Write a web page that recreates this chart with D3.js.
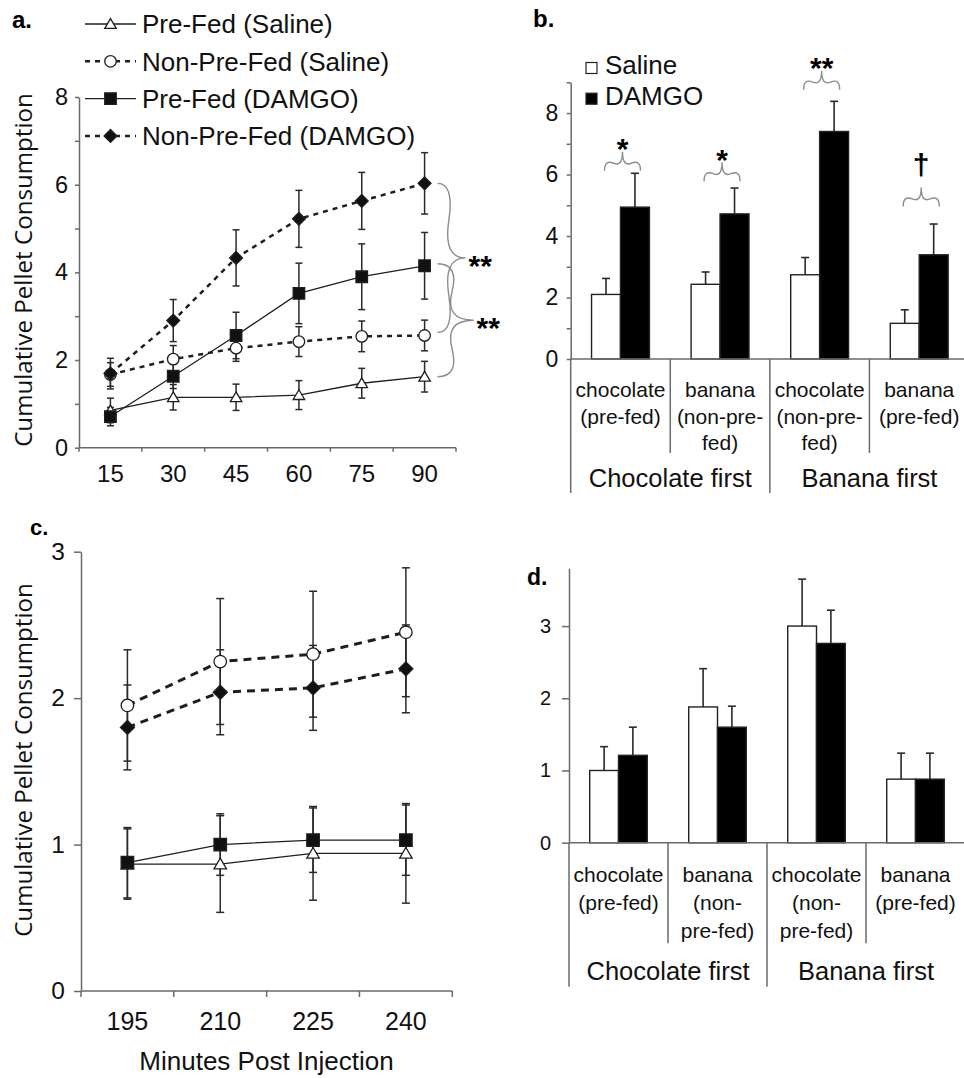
<!DOCTYPE html>
<html><head><meta charset="utf-8">
<script src="https://cdn.jsdelivr.net/npm/d3@7"></script>
<style>body{margin:0;background:#fff}svg{display:block}</style>
</head><body>
<svg id="chart" width="964" height="1078"></svg>
<script>
// ---------------- DATA ----------------
// Panel a
const timesA = ["15","30","45","60","75","90"];
const preFedSalineA      = [0.85, 1.15, 1.15, 1.20, 1.47, 1.62];
const preFedSalineErrA   = [0.28, 0.29, 0.30, 0.33, 0.34, 0.35];
const nonPreFedSalineA   = [1.67, 2.02, 2.27, 2.42, 2.54, 2.56];
const nonPreFedSalineErrA= [0.27, 0.31, 0.30, 0.34, 0.35, 0.35];
const preFedDamgoA       = [0.71, 1.63, 2.56, 3.52, 3.90, 4.15];
const preFedDamgoErrA    = [0.21, 0.28, 0.53, 0.69, 0.75, 0.76];
const nonPreFedDamgoA    = [1.69, 2.90, 4.33, 5.22, 5.63, 6.03];
const nonPreFedDamgoErrA = [0.35, 0.48, 0.64, 0.65, 0.65, 0.70];
const seriesNames = ["Pre-Fed (Saline)","Non-Pre-Fed (Saline)","Pre-Fed (DAMGO)","Non-Pre-Fed (DAMGO)"];
const yTicksA = [0,1,2,3,4,5,6,7,8];

// Panel b
const categoriesB = [["chocolate","(pre-fed)"],["banana","(non-pre-","fed)"],["chocolate","(non-pre-","fed)"],["banana","(pre-fed)"]];
const groupsB = ["Chocolate first","Banana first"];
const treatments = ["Saline","DAMGO"];
const salineB    = [2.10, 2.43, 2.74, 1.16];
const salineErrB = [0.52, 0.40, 0.56, 0.44];
const damgoB     = [4.94, 4.72, 7.40, 3.39];
const damgoErrB  = [1.10, 0.84, 0.98, 1.00];
const sigB       = ["*","*","**","\u2020"];
const sigLevelB  = [6.12, 5.78, 8.76, 4.96];
const yTicksB = [0,1,2,3,4,5,6,7,8,9];

// Panel c
const timesC = ["195","210","225","240"];
const preFedSalineC      = [0.867, 0.867, 0.94, 0.94];
const preFedSalineErrC   = [0.24, 0.33, 0.32, 0.34];
const nonPreFedSalineC   = [1.95, 2.25, 2.30, 2.45];
const nonPreFedSalineErrC= [0.38, 0.43, 0.43, 0.44];
const preFedDamgoC       = [0.876, 1.00, 1.03, 1.03];
const preFedDamgoErrC    = [0.24, 0.21, 0.22, 0.24];
const nonPreFedDamgoC    = [1.80, 2.04, 2.07, 2.20];
const nonPreFedDamgoErrC = [0.29, 0.29, 0.29, 0.30];
const yTicksC = [0,1,2,3];

// Panel d
const categoriesD = [["chocolate","(pre-fed)"],["banana","(non-","pre-fed)"],["chocolate","(non-","pre-fed)"],["banana","(pre-fed)"]];
const salineD    = [1.00, 1.88, 3.00, 0.88];
const salineErrD = [0.33, 0.53, 0.65, 0.36];
const damgoD     = [1.21, 1.60, 2.76, 0.88];
const damgoErrD  = [0.39, 0.29, 0.46, 0.36];
const yTicksD = [0,1,2,3];

// ---------------- STYLE ----------------
const svg = d3.select("#chart");
const FONT = "'Liberation Sans', Arial, Helvetica, sans-serif";
const AX = "#6a6a6a";
const INK = "#1e1e1e";
const BRACE = "#8c8c8c";

function markerPath(type, s){
  const h = s/2;
  if(type==="square") return `M${-h},${-h}H${h}V${h}H${-h}Z`;
  if(type==="circle") return `M${-h},0A${h},${h} 0 1,0 ${h},0A${h},${h} 0 1,0 ${-h},0Z`;
  if(type==="triangle"){ const th = s*0.85; return `M0,${-th*0.55}L${h},${th*0.45}L${-h},${th*0.45}Z`; }
  if(type==="diamond"){ const d = h*1.12; return `M0,${-d}L${d},0L0,${d}L${-d},0Z`; }
}

function curlyBrace(x1,y1,x2,y2,w,q){
  let dx=x1-x2, dy=y1-y2; const len=Math.sqrt(dx*dx+dy*dy); dx/=len; dy/=len;
  const qx1=x1+q*w*dy, qy1=y1-q*w*dx;
  const qx2=(x1-.25*len*dx)+(1-q)*w*dy, qy2=(y1-.25*len*dy)-(1-q)*w*dx;
  const tx1=(x1-.5*len*dx)+w*dy, ty1=(y1-.5*len*dy)-w*dx;
  const qx3=x2+q*w*dy, qy3=y2-q*w*dx;
  const qx4=(x1-.75*len*dx)+(1-q)*w*dy, qy4=(y1-.75*len*dy)-(1-q)*w*dx;
  return `M${x1},${y1}Q${qx1},${qy1} ${qx2},${qy2}T${tx1},${ty1}M${x2},${y2}Q${qx3},${qy3} ${qx4},${qy4}T${tx1},${ty1}`;
}

function styleAxis(g, fs){
  g.select(".domain").attr("stroke",AX).attr("stroke-width",1.5);
  g.selectAll(".tick line").attr("stroke",AX).attr("stroke-width",1.5);
  g.selectAll(".tick text").attr("font-family",FONT).attr("font-size",fs).attr("fill","#111");
}

function yTitle(cx, cy, len){
  const t = svg.append("text").attr("transform",`translate(${cx},${cy}) rotate(-90)`)
    .attr("text-anchor","middle").attr("font-family","'Open Sans', 'Noto Sans', sans-serif")
    .attr("font-size",24).attr("fill","#111").text("Cumulative Pellet Consumption");
  const L = t.node().getComputedTextLength();
  t.attr("font-size", 24*len/L);
}

function panelLabel(txt, x, y, fs){
  svg.append("text").attr("x",x).attr("y",y).attr("font-family",FONT).attr("font-weight","bold")
    .attr("font-size",fs).attr("fill","#000").text(txt);
}

// ---------------- LINE PANEL ----------------
function linePanel(o){
  const x = d3.scaleBand().domain(o.times).range(o.xr);
  const y = d3.scaleLinear().domain(o.yd).range(o.yr);
  const g = svg.append("g");
  // y axis
  const ya = g.append("g").attr("transform",`translate(${o.xr[0]},0)`)
    .call(d3.axisLeft(y).tickValues(o.yticks).tickSize(o.ytick).tickSizeOuter(0).tickPadding(o.ypad)
      .tickFormat(d => o.ylabelEvery && d % o.ylabelEvery !== 0 ? "" : d));
  styleAxis(ya, o.yfs);
  // x axis (manual, boundary ticks from band scale)
  const y0 = y(0);
  g.append("line").attr("x1",o.xr[0]).attr("x2",o.xr[1]).attr("y1",y0).attr("y2",y0).attr("stroke",AX).attr("stroke-width",1.5);
  const bounds = [o.xr[0]].concat(o.times.map(t => x(t)+x.bandwidth()));
  g.selectAll(".xt").data(bounds).join("line").attr("x1",d=>d).attr("x2",d=>d)
    .attr("y1",y0).attr("y2",y0+o.xtick).attr("stroke",AX).attr("stroke-width",1.5);
  g.selectAll(".xl").data(o.times).join("text").attr("x",d=>x(d)+x.bandwidth()/2).attr("y",y0+o.xlabelDy)
    .attr("text-anchor","middle").attr("font-family",FONT).attr("font-size",o.xfs).attr("fill","#111").text(d=>d);

  const cx = d => x(d)+x.bandwidth()/2;
  const line = d3.line().x(d=>cx(d.t)).y(d=>y(d.v));
  o.series.forEach(s=>{
    const pts = o.times.map((t,i)=>({t, v:s.vals[i], e:s.err[i]}));
    g.append("path").datum(pts).attr("d",line).attr("fill","none").attr("stroke",INK)
      .attr("stroke-width", s.dashed ? o.dashW : 1.3)
      .attr("stroke-dasharray", s.dashed ? o.dash : null);
  });
  o.series.forEach(s=>{
    const pts = o.times.map((t,i)=>({t, v:s.vals[i], e:s.err[i]}));
    const eg = g.append("g").attr("stroke","#2a2a2a").attr("stroke-width",1.5);
    pts.forEach(p=>{
      const X = cx(p.t), yt = y(p.v+p.e), yb = y(p.v-p.e);
      eg.append("line").attr("x1",X).attr("x2",X).attr("y1",yt).attr("y2",yb);
      eg.append("line").attr("x1",X-o.cap).attr("x2",X+o.cap).attr("y1",yt).attr("y2",yt);
      eg.append("line").attr("x1",X-o.cap).attr("x2",X+o.cap).attr("y1",yb).attr("y2",yb);
    });
  });
  o.series.forEach(s=>{
    const pts = o.times.map((t,i)=>({t, v:s.vals[i]}));
    g.selectAll(null).data(pts).join("path").attr("d",markerPath(s.marker,o.msize))
      .attr("transform",d=>`translate(${cx(d.t)},${y(d.v)})`)
      .attr("fill",s.fill).attr("stroke",INK).attr("stroke-width",1.3);
  });
  return {x,y,cx};
}

const markerTypes = ["triangle","circle","square","diamond"];
const fills = ["#fff","#fff","#111","#111"];
const dashedFlags = [false,true,false,true];

// ---------------- PANEL A ----------------
const valsA = [preFedSalineA, nonPreFedSalineA, preFedDamgoA, nonPreFedDamgoA];
const errsA = [preFedSalineErrA, nonPreFedSalineErrA, preFedDamgoErrA, nonPreFedDamgoErrA];
const seriesA = seriesNames.map((n,i)=>({name:n, vals:valsA[i], err:errsA[i], marker:markerTypes[i], fill:fills[i], dashed:dashedFlags[i]}));
const A = linePanel({times:timesA, xr:[79,456], yd:[0,8], yr:[447.7,97], yticks:yTicksA, ylabelEvery:2,
  ytick:4, ypad:7, yfs:23.5, xtick:4, xlabelDy:34, xfs:24, series:seriesA, msize:11.5, cap:3.5,
  dash:"5,5", dashW:2.5});

// braces in a
const last = timesA.length-1;
const bx = A.cx(timesA[last]) + 13;
svg.append("path").attr("d",curlyBrace(bx, A.y(nonPreFedSalineA[last])-3, bx, A.y(nonPreFedDamgoA[last]), 28, 0.6))
  .attr("fill","none").attr("stroke",BRACE).attr("stroke-width",1.4);
svg.append("path").attr("d",curlyBrace(bx, A.y(preFedSalineA[last]), bx, A.y(preFedDamgoA[last])-2, 36, 0.6))
  .attr("fill","none").attr("stroke",BRACE).attr("stroke-width",1.4);
svg.append("text").attr("x",bx+31).attr("y",(A.y(nonPreFedSalineA[last])+A.y(nonPreFedDamgoA[last]))/2+17)
  .attr("font-family",FONT).attr("font-weight","bold").attr("font-size",30).text("**");
svg.append("text").attr("x",bx+39).attr("y",(A.y(preFedSalineA[last])+A.y(preFedDamgoA[last]))/2+17)
  .attr("font-family",FONT).attr("font-weight","bold").attr("font-size",30).text("**");

// legend a
const legA = svg.append("g");
seriesA.forEach((s,i)=>{
  const ly = 24 + i*37.3;
  legA.append("line").attr("x1",85).attr("x2",136).attr("y1",ly).attr("y2",ly).attr("stroke",INK)
    .attr("stroke-width", s.dashed?2.5:1.3).attr("stroke-dasharray", s.dashed?"5,5":null);
  legA.append("path").attr("d",markerPath(s.marker,11.5)).attr("transform",`translate(110.5,${ly})`)
    .attr("fill",s.fill).attr("stroke",INK).attr("stroke-width",1.3);
  legA.append("text").attr("x",142).attr("y",ly+9.3).attr("font-family",FONT).attr("font-size",26).attr("fill","#111").text(s.name);
});
panelLabel("a.", 12, 28, 24);
yTitle(31.5, 270, 354);

// ---------------- BAR PANEL ----------------
function barPanel(o){
  const x = d3.scaleBand().domain(d3.range(o.cats.length)).range(o.xr);
  const xi = d3.scaleBand().domain(treatments).range([0,x.bandwidth()]).paddingOuter(0.72);
  const y = d3.scaleLinear().domain(o.yd).range(o.yr);
  const g = svg.append("g");
  const y0 = y(0);
  // bars
  const rows = d3.range(o.cats.length).flatMap(i=>[
    {i, t:"Saline", v:o.sal[i], e:o.salE[i]}, {i, t:"DAMGO", v:o.dam[i], e:o.damE[i]}]);
  // error bars (upward only)
  rows.forEach(r=>{
    const X = x(r.i)+xi(r.t)+xi.bandwidth()/2, yt=y(r.v+r.e);
    g.append("line").attr("x1",X).attr("x2",X).attr("y1",y(r.v)).attr("y2",yt).attr("stroke","#2a2a2a").attr("stroke-width",1.6);
    g.append("line").attr("x1",X-4).attr("x2",X+4).attr("y1",yt).attr("y2",yt).attr("stroke","#2a2a2a").attr("stroke-width",1.6);
  });
  g.selectAll(".bar").data(rows).join("rect")
    .attr("x",r=>x(r.i)+xi(r.t)).attr("width",xi.bandwidth())
    .attr("y",r=>y(r.v)).attr("height",r=>y0-y(r.v))
    .attr("fill",r=>r.t==="Saline"?"#fff":"#000").attr("stroke","#222").attr("stroke-width",1.4);
  // y axis
  const ya = g.append("g").attr("transform",`translate(${o.xr[0]},0)`)
    .call(d3.axisLeft(y).tickValues(o.yticks).tickSize(o.ytick).tickSizeOuter(0).tickPadding(o.ypad)
      .tickFormat(d => o.ylabelEvery && d % o.ylabelEvery !== 0 ? "" : d));
  styleAxis(ya, o.yfs);
  // x baseline
  g.append("line").attr("x1",o.xr[0]).attr("x2",o.xr[1]).attr("y1",y0).attr("y2",y0).attr("stroke",AX).attr("stroke-width",1.5);
  // separators
  d3.range(o.cats.length).forEach(i=>{
    const X = x(i), long = i%2===0;
    g.append("line").attr("x1",X).attr("x2",X).attr("y1",y0).attr("y2",y0+(long?o.longSep:o.shortSep))
      .attr("stroke",AX).attr("stroke-width",1.5);
  });
  // category labels
  o.cats.forEach((lines,i)=>{
    lines.forEach((ln,j)=>{
      g.append("text").attr("x",x(i)+x.bandwidth()/2).attr("y",y0+o.catDy+j*o.catLh).attr("text-anchor","middle")
        .attr("font-family",FONT).attr("font-size",21).attr("fill","#111").text(ln);
    });
  });
  groupsB.forEach((gname,k)=>{
    g.append("text").attr("x",(x(2*k)+x(2*k+1)+x.bandwidth())/2).attr("y",y0+o.grpDy).attr("text-anchor","middle")
      .attr("font-family",FONT).attr("font-size",25.5).attr("fill","#111").text(gname);
  });
  return {x,y,xi};
}

// ---------------- PANEL B ----------------
const B = barPanel({cats:categoriesB, sal:salineB, salE:salineErrB, dam:damgoB, damE:damgoErrB,
  xr:[570.7,969], yd:[0,9], yr:[359,82.3], yticks:yTicksB, ylabelEvery:2, ytick:4, ypad:8.5, yfs:23,
  shortSep:94, longSep:134, catDy:38, catLh:26.5, grpDy:128});
sigB.forEach((s,i)=>{
  const c = B.x(i)+B.x.bandwidth()/2+2, yb = B.y(sigLevelB[i]), w = 19;
  svg.append("path").attr("d",curlyBrace(c+18,yb,c-18,yb,w,0.6)).attr("fill","none").attr("stroke",BRACE).attr("stroke-width",1.4);
  const dagger = s === "\u2020";
  svg.append("text").attr("x",c).attr("y",yb-w+(dagger?-13:7.5)).attr("text-anchor","middle")
    .attr("font-family",FONT).attr("font-weight","bold").attr("font-size",30).text(s);
});
// legend b
treatments.forEach((t,i)=>{
  const ty = 74 + i*30.7;
  svg.append("rect").attr("x",586).attr("y",ty-11.5).attr("width",11).attr("height",11)
    .attr("fill",t==="Saline"?"#fff":"#000").attr("stroke","#222").attr("stroke-width",1.2);
  svg.append("text").attr("x",605).attr("y",ty).attr("font-family",FONT).attr("font-size",26).attr("fill","#111").text(t);
});
panelLabel("b.", 533, 27, 24);

// ---------------- PANEL C ----------------
const valsC = [preFedSalineC, nonPreFedSalineC, preFedDamgoC, nonPreFedDamgoC];
const errsC = [preFedSalineErrC, nonPreFedSalineErrC, preFedDamgoErrC, nonPreFedDamgoErrC];
const seriesC = seriesNames.map((n,i)=>({name:n, vals:valsC[i], err:errsC[i], marker:markerTypes[i], fill:fills[i], dashed:dashedFlags[i]}));
linePanel({times:timesC, xr:[81,452.3], yd:[0,3], yr:[991,551.7], yticks:yTicksC, ylabelEvery:0,
  ytick:7, ypad:9, yfs:24.5, xtick:6, xlabelDy:39, xfs:25, series:seriesC, msize:12.5, cap:4,
  dash:"8,6", dashW:3});
svg.append("text").attr("x",266.5).attr("y",1070).attr("text-anchor","middle").attr("font-family",FONT)
  .attr("font-size",26).attr("fill","#111").text("Minutes Post Injection");
panelLabel("c.", 30, 535, 22);
yTitle(31.5, 760, 354);

// ---------------- PANEL D ----------------
barPanel({cats:categoriesD, sal:salineD, salE:salineErrD, dam:damgoD, damE:damgoErrD,
  xr:[569,965], yd:[0,3.8], yr:[842.7,568.3], yticks:yTicksD, ylabelEvery:0, ytick:7, ypad:11, yfs:20,
  shortSep:100.6, longSep:144, catDy:39, catLh:28, grpDy:137.3});
panelLabel("d.", 527, 585, 23);
</script>
</body></html>
